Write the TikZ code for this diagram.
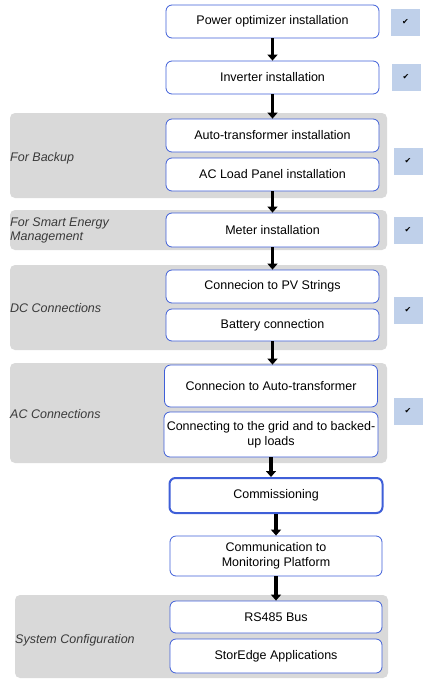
\documentclass[tikz,border=0pt]{standalone}
\usepackage{fontspec}
\setmainfont{Liberation Sans}
\newfontfamily\symfont{DejaVu Sans}
\usetikzlibrary{arrows.meta, positioning}
\definecolor{stepblue}{HTML}{3F5FD8}
\definecolor{bandgray}{HTML}{D9D9D9}
\definecolor{tickblue}{HTML}{BFD0EA}
\definecolor{labelgray}{HTML}{3A3A3A}
\tikzset{
  task/.style={rectangle,rounded corners=6pt,draw=stepblue,thick,fill=white,minimum width=213pt,minimum height=33pt,inner sep=1pt,align=center,font=\fontsize{12.5}{15}\selectfont},
  task_b/.style={task,line width=2pt},
  band/.style={rectangle,rounded corners=5pt,fill=bandgray,inner sep=0pt},
  bandlabel/.style={anchor=west,align=left,inner sep=0pt,text=labelgray,font=\fontsize{12.5}{14}\selectfont\itshape},
  tick/.style={rectangle,fill=tickblue,minimum width=29pt,minimum height=27pt,inner sep=0pt,font=\symfont\fontsize{8}{8}\selectfont},
  flow/.style={line width=3.5pt,black,-{Triangle[width=10pt,length=6pt]}},
}
\begin{document}
\begin{tikzpicture}[x=1pt,y=-1pt]
  \useasboundingbox (0,0) rectangle (424,680);
  % grey groups
  \node[band,minimum width=377pt,minimum height=85pt] (gbackup) at (198.5,155.5) {};
  \node[band,minimum width=377pt,minimum height=40pt] (gmeter) at (198.5,230) {};
  \node[band,minimum width=377pt,minimum height=85pt] (gdc) at (198.5,307.5) {};
  \node[band,minimum width=377pt,minimum height=100pt] (gac) at (198.5,413) {};
  \node[band,minimum width=373pt,minimum height=83pt] (gsys) at (201.5,636.5) {};
  \node[bandlabel] (lbackup) at (10,158) {For Backup};
  \node[bandlabel] (lmeter) at (10,230) {For Smart Energy\\Management};
  \node[bandlabel] (ldc) at (10,308) {DC Connections};
  \node[bandlabel] (lac) at (10,414) {AC Connections};
  \node[bandlabel] (lsys) at (15,640) {System Configuration};
  % steps
  \node[task] (optim) at (272.5,21.5) {Power optimizer installation};
  \node[task] (inv) at (272.5,77.5) {Inverter installation};
  \node[task] (autotr) at (272.5,135.5) {Auto-transformer installation};
  \node[task] (acload) at (272.5,174.5) {AC Load Panel installation};
  \node[task,minimum height=34pt] (meter) at (272.5,230) {Meter installation};
  \node[task] (pv) at (272.5,286.5) {Connecion to PV Strings};
  \node[task,minimum height=32pt] (batt) at (272.5,325) {Battery connection};
  \node[task,minimum height=42pt] (connauto) at (271,386) {Connecion to Auto-transformer};
  \node[task,minimum height=45pt,minimum width=214pt] (grid) at (271,434.5) {Connecting to the grid and to backed-\\up loads};
  \node[task_b,minimum height=35pt] (comm) at (276,495.5) {Commissioning};
  \node[task,minimum height=40pt,minimum width=212pt] (monit) at (276,556) {Communication to\\Monitoring Platform};
  \node[task,minimum height=32pt,minimum width=212pt] (rs) at (276,617) {RS485 Bus};
  \node[task,minimum height=34pt,minimum width=212pt] (stor) at (276,656) {StorEdge Applications};
  % ticks
  \node[tick] (t1) at (405.5,22) {✔};
  \node[tick] (t2) at (406,77) {✔};
  \node[tick] (t3) at (408,161) {✔};
  \node[tick] (t4) at (408,230) {✔};
  \node[tick] (t5) at (408,310) {✔};
  \node[tick] (t6) at (408,411) {✔};
  % arrows
  \draw[flow] (optim.south) -- (optim.south |- inv.north);
  \draw[flow] (inv.south) -- (inv.south |- autotr.north);
  \draw[flow] (acload.south) -- (acload.south |- meter.north);
  \draw[flow] (meter.south) -- (meter.south |- pv.north);
  \draw[flow] (batt.south) -- (batt.south |- connauto.north);
  \draw[flow] (grid.south) -- (grid.south |- comm.north);
  \draw[flow] (comm.south) -- (comm.south |- monit.north);
  \draw[flow] (monit.south) -- (monit.south |- rs.north);
\end{tikzpicture}
\end{document}
